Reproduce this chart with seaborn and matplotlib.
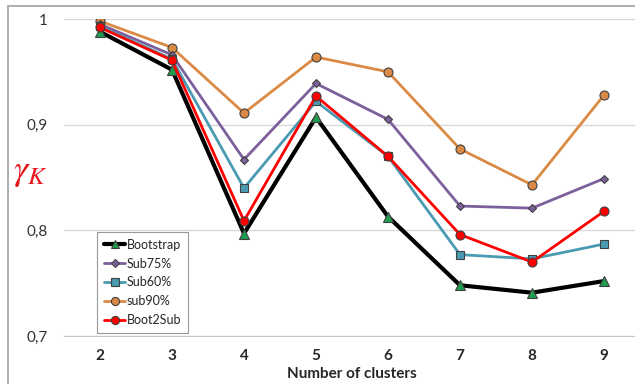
import matplotlib
matplotlib.use("Agg")
import matplotlib.pyplot as plt
import matplotlib.ticker as mticker
from matplotlib.patches import Rectangle
import seaborn as sns
import pandas as pd

# values
clusters = [2, 3, 4, 5, 6, 7, 8, 9]
bootstrap = [0.988, 0.952, 0.797, 0.907, 0.813, 0.748, 0.741, 0.752]
sub75 = [0.995, 0.966, 0.867, 0.939, 0.905, 0.823, 0.821, 0.849]
sub60 = [0.993, 0.962, 0.840, 0.922, 0.870, 0.777, 0.773, 0.787]
sub90 = [0.998, 0.973, 0.911, 0.964, 0.950, 0.877, 0.843, 0.928]
boot2sub = [0.992, 0.961, 0.809, 0.927, 0.870, 0.796, 0.770, 0.818]
y_ticks = [0.7, 0.8, 0.9, 1.0]

series = {
    'Bootstrap': bootstrap,
    'Sub75%': sub75,
    'Sub60%': sub60,
    'sub90%': sub90,
    'Boot2Sub': boot2sub,
}
df = pd.concat([pd.DataFrame({'clusters': clusters, 'gamma': v, 'method': k})
                for k, v in series.items()], ignore_index=True)

# line colour, marker, marker face, line width, marker size, z-order
styles = {
    'Bootstrap': ('#000000', '^', '#1E9E4E', 3.0, 6.5, 3),
    'Sub75%': ('#7B609C', 'D', '#7B609C', 2.0, 4.5, 2),
    'Sub60%': ('#4A9BB1', 's', '#4A9BB1', 2.0, 6, 2),
    'sub90%': ('#DB8A45', 'o', '#DB8A45', 2.0, 6.5, 1),
    'Boot2Sub': ('#FF0000', 'o', '#FF0000', 2.0, 6.5, 4),
}

sns.set_style('white')
plt.rcParams['font.family'] = ['Lato', 'DejaVu Sans']
plt.rcParams['mathtext.fontset'] = 'stix'

fig = plt.figure(figsize=(6.35, 3.84), dpi=100)
fig.patches.append(Rectangle((8 / 635, -0.1), 1.2, 1 - 6 / 384 + 0.1,
                             transform=fig.transFigure, fill=False,
                             edgecolor='#A0A0A0', linewidth=1.2))
ax = fig.add_axes([64 / 635, 48 / 384, 576 / 635, 317 / 384])

for name in series:
    col, mk, face, lw, ms, z = styles[name]
    sns.lineplot(data=df[df['method'] == name], x='clusters', y='gamma', ax=ax,
                 color=col, linewidth=lw, marker=mk, markersize=ms,
                 markerfacecolor=face, markeredgecolor='#404040',
                 markeredgewidth=0.8, label=name, zorder=z)

ax.set_xlim(1.5, 9.5)
ax.set_ylim(0.7, 1.0)
ax.set_yticks(y_ticks)
ax.yaxis.set_major_formatter(mticker.FuncFormatter(
    lambda v, p: '1' if abs(v - 1) < 1e-9 else f'{v:.1f}'.replace('.', ',')))
ax.set_xticks(clusters)
ax.set_xticks([c + 0.5 for c in clusters[:-1]] + [1.5], minor=True)
ax.tick_params(axis='x', which='major', length=0, pad=9, labelsize=11)
ax.tick_params(axis='x', which='minor', length=5, color='#C8C8C8', direction='out')
ax.tick_params(axis='y', length=0, pad=12, labelsize=11, labelcolor='#333333')
for lab in ax.get_xticklabels():
    lab.set_fontweight('bold')

ax.grid(axis='y', color='#D9D9D9', linewidth=1)
ax.grid(axis='x', visible=False)
for s in ['top', 'right', 'left']:
    ax.spines[s].set_visible(False)
ax.spines['bottom'].set_color('#C8C8C8')

ax.set_xlabel('Number of clusters', fontsize=11, fontweight='bold', labelpad=3)
ax.set_ylabel(r'$\gamma_K$', fontsize=26, color='#E8141B', rotation=0)
ax.yaxis.set_label_coords(-0.058, 0.465)

leg = ax.legend(loc='lower left', bbox_to_anchor=(33 / 576, 3 / 317),
                frameon=True, fancybox=False, fontsize=9, handlelength=1.7,
                handletextpad=0.1, labelspacing=0.55, borderpad=0.55,
                borderaxespad=0, markerscale=0.9)
leg.get_frame().set_edgecolor('#808080')
leg.get_frame().set_linewidth(0.8)

fig.savefig('out.png', dpi=100)
